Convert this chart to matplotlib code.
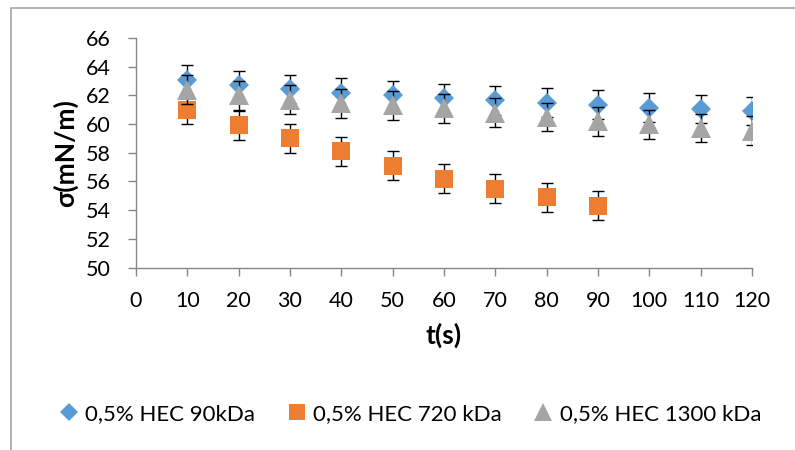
import matplotlib
matplotlib.use("Agg")
import matplotlib.pyplot as plt
from matplotlib.patches import Rectangle

plt.rcParams['font.family'] = ['Lato', 'DejaVu Sans']

t_90 = [10, 20, 30, 40, 50, 60, 70, 80, 90, 100, 110, 120]
sigma_90 = [63.1, 62.7, 62.45, 62.2, 62.0, 61.8, 61.65, 61.5, 61.35, 61.15, 61.05, 60.9]
err_90 = [1.0] * len(t_90)

t_720 = [10, 20, 30, 40, 50, 60, 70, 80, 90]
sigma_720 = [61.0, 59.9, 59.0, 58.1, 57.1, 56.2, 55.5, 54.9, 54.3]
err_720 = [1.0] * len(t_720)

t_1300 = [10, 20, 30, 40, 50, 60, 70, 80, 90, 100, 110, 120]
sigma_1300 = [62.4, 62.0, 61.7, 61.45, 61.3, 61.1, 60.8, 60.5, 60.2, 59.97, 59.73, 59.55]
err_1300 = [1.0] * len(t_1300)

labels = ["0,5% HEC 90kDa", "0,5% HEC 720 kDa", "0,5% HEC 1300 kDa"]
x_ticks = list(range(0, 121, 10))
y_ticks = list(range(50, 67, 2))

W, H = 795, 450
fig = plt.figure(figsize=(W / 100, H / 100), dpi=100)
ax = fig.add_axes([136 / W, 1 - 267.5 / H, (752 - 136) / W, (267.5 - 38) / H])

# outer chart frame
fig.patches.append(Rectangle((11 / W, -0.1), 1.2, 1 - 7.5 / H + 0.1,
                             transform=fig.transFigure, fill=False,
                             edgecolor='#a6a6a6', linewidth=1.2))

series = [
    (t_90, sigma_90, err_90, 'D', '#5b9bd5', 10.0, labels[0]),
    (t_720, sigma_720, err_720, 's', '#ed7d31', 13.5, labels[1]),
    (t_1300, sigma_1300, err_1300, '^', '#a5a5a5', 15.0, labels[2]),
]
handles = []
for i, (x, y, e, m, c, ms, lab) in enumerate(series):
    ax.errorbar(x, y, yerr=e, fmt='none', ecolor='black', elinewidth=1.0,
                capsize=4.5, capthick=1.0, zorder=2 + i * 2)
    h, = ax.plot(x, y, linestyle='none', marker=m, markersize=ms,
                 color=c, markeredgewidth=0, label=lab, zorder=3 + i * 2)
    handles.append(h)

ax.set_xlim(0, 120)
ax.set_ylim(50, 66)
ax.set_xticks(x_ticks)
ax.set_yticks(y_ticks)
ax.tick_params(axis='both', direction='out', length=6, width=1,
               color='#868686', labelsize=15.5)
ax.tick_params(axis='y', pad=12)
ax.tick_params(axis='x', pad=11)
for s in ['top', 'right']:
    ax.spines[s].set_visible(False)
for s in ['left', 'bottom']:
    ax.spines[s].set_color('#868686')
    ax.spines[s].set_linewidth(1)

ax.set_xlabel('t(s)', fontsize=19, fontweight='bold', labelpad=8)
ax.set_ylabel('σ(mN/m)', fontsize=19, fontweight='bold', labelpad=6)

leg = fig.legend(handles=handles, labels=labels, loc='center',
                 bbox_to_anchor=(410 / W, 1 - 414 / H), ncol=3,
                 frameon=False, fontsize=16, handlelength=0.9,
                 handletextpad=0.3, columnspacing=1.4, markerscale=0.9)

fig.savefig('out.png', dpi=100)
